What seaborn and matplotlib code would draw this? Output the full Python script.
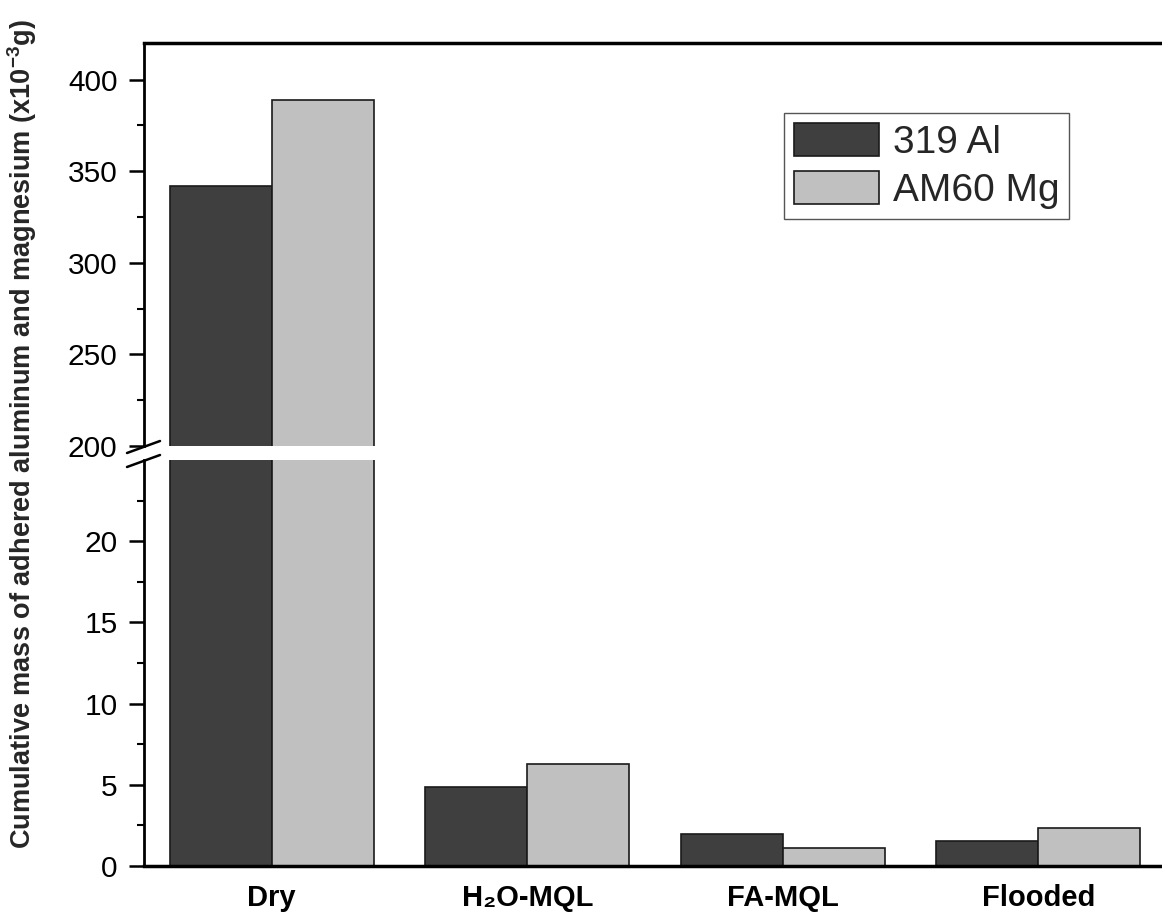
import pandas as pd
import numpy as np
import matplotlib
matplotlib.use("Agg")
import matplotlib.pyplot as plt
import seaborn as sns

# data
conditions = ["Dry", "H\u2082O-MQL", "FA-MQL", "Flooded"]
al_319 = [342, 4.85, 1.96, 1.53]
mg_am60 = [389, 6.26, 1.10, 2.33]
series = ["319 Al", "AM60 Mg"]
colors = ["#3f3f3f", "#c0c0c0"]

df = pd.DataFrame({
    "condition": conditions * 2,
    "alloy": [series[0]] * 4 + [series[1]] * 4,
    "mass": al_319 + mg_am60,
})

sns.set_theme(style="ticks")
plt.rcParams["font.family"] = ["Liberation Sans", "DejaVu Sans"]
plt.rcParams["mathtext.fontset"] = "custom"
plt.rcParams["mathtext.rm"] = "Liberation Sans"
plt.rcParams["mathtext.bf"] = "Liberation Sans:bold"

fig = plt.figure(figsize=(11.62, 9.15), dpi=100)
left, right = 144 / 1162, 1166 / 1162
ax_lo = fig.add_axes([left, 49 / 915, right - left, (866 - 460) / 915])
ax_hi = fig.add_axes([left, (915 - 446) / 915, right - left, (446 - 43) / 915])

for ax in (ax_lo, ax_hi):
    sns.barplot(data=df, x="condition", y="mass", hue="alloy", order=conditions,
                hue_order=series, palette=colors, edgecolor="#1a1a1a", linewidth=1.2,
                saturation=1, ax=ax, legend=(ax is ax_hi))
    ax.set_xlim(-0.5, 3.5)
    ax.set_xlabel("")
    ax.set_ylabel("")
    ax.spines["right"].set_visible(False)
    ax.tick_params(axis="y", which="major", direction="out", length=11, width=1.8,
                   labelsize=21.5, pad=8, color="black", labelcolor="black")
    ax.tick_params(axis="y", which="minor", direction="out", length=5, width=1.5, color="black")
    ax.spines["left"].set_linewidth(2)
    ax.spines["left"].set_color("black")

# lower segment
ax_lo.set_ylim(0, 25)
ax_lo.set_yticks([0, 5, 10, 15, 20])
ax_lo.set_yticks([2.5, 7.5, 12.5, 17.5, 22.5], minor=True)
ax_lo.spines["top"].set_visible(False)
ax_lo.spines["bottom"].set_linewidth(2.5)
ax_lo.spines["bottom"].set_color("black")
ax_lo.tick_params(axis="x", length=0, pad=13)
for lab in ax_lo.get_xticklabels():
    lab.set_fontsize(21)
    lab.set_fontweight("bold")
    lab.set_color("black")

# upper segment
ax_hi.set_ylim(200, 420)
ax_hi.set_yticks([200, 250, 300, 350, 400])
ax_hi.set_yticks([225, 275, 325, 375], minor=True)
ax_hi.spines["bottom"].set_visible(False)
ax_hi.spines["top"].set_linewidth(2.5)
ax_hi.spines["top"].set_color("black")
ax_hi.set_xticks([])

handles, labels = ax_hi.get_legend_handles_labels()
ax_hi.legend(handles, labels, loc="upper left", bbox_to_anchor=(784 / 1162, 1 - 113 / 915),
             bbox_transform=fig.transFigure, borderaxespad=0, fontsize=28, frameon=True,
             fancybox=False, edgecolor="#555555", framealpha=1, handlelength=2.2,
             handleheight=0.92, handletextpad=0.35, labelspacing=0.28, borderpad=0.25)
ax_hi.get_legend().get_frame().set_linewidth(1)

# axis break marks
for y0 in (453, 467):
    fig.add_artist(plt.Line2D([127 / 1162, 160 / 1162],
                              [1 - y0 / 915, 1 - (y0 - 12) / 915],
                              color="black", lw=1.8, transform=fig.transFigure))

fig.text(22 / 1162, 1 - 434 / 915,
         "Cumulative mass of adhered aluminum and magnesium (x10$^{\\mathbf{-3}}$g)",
         rotation=90, ha="center", va="center", fontsize=19.5, fontweight="bold")

fig.savefig("out.png", dpi=100)
